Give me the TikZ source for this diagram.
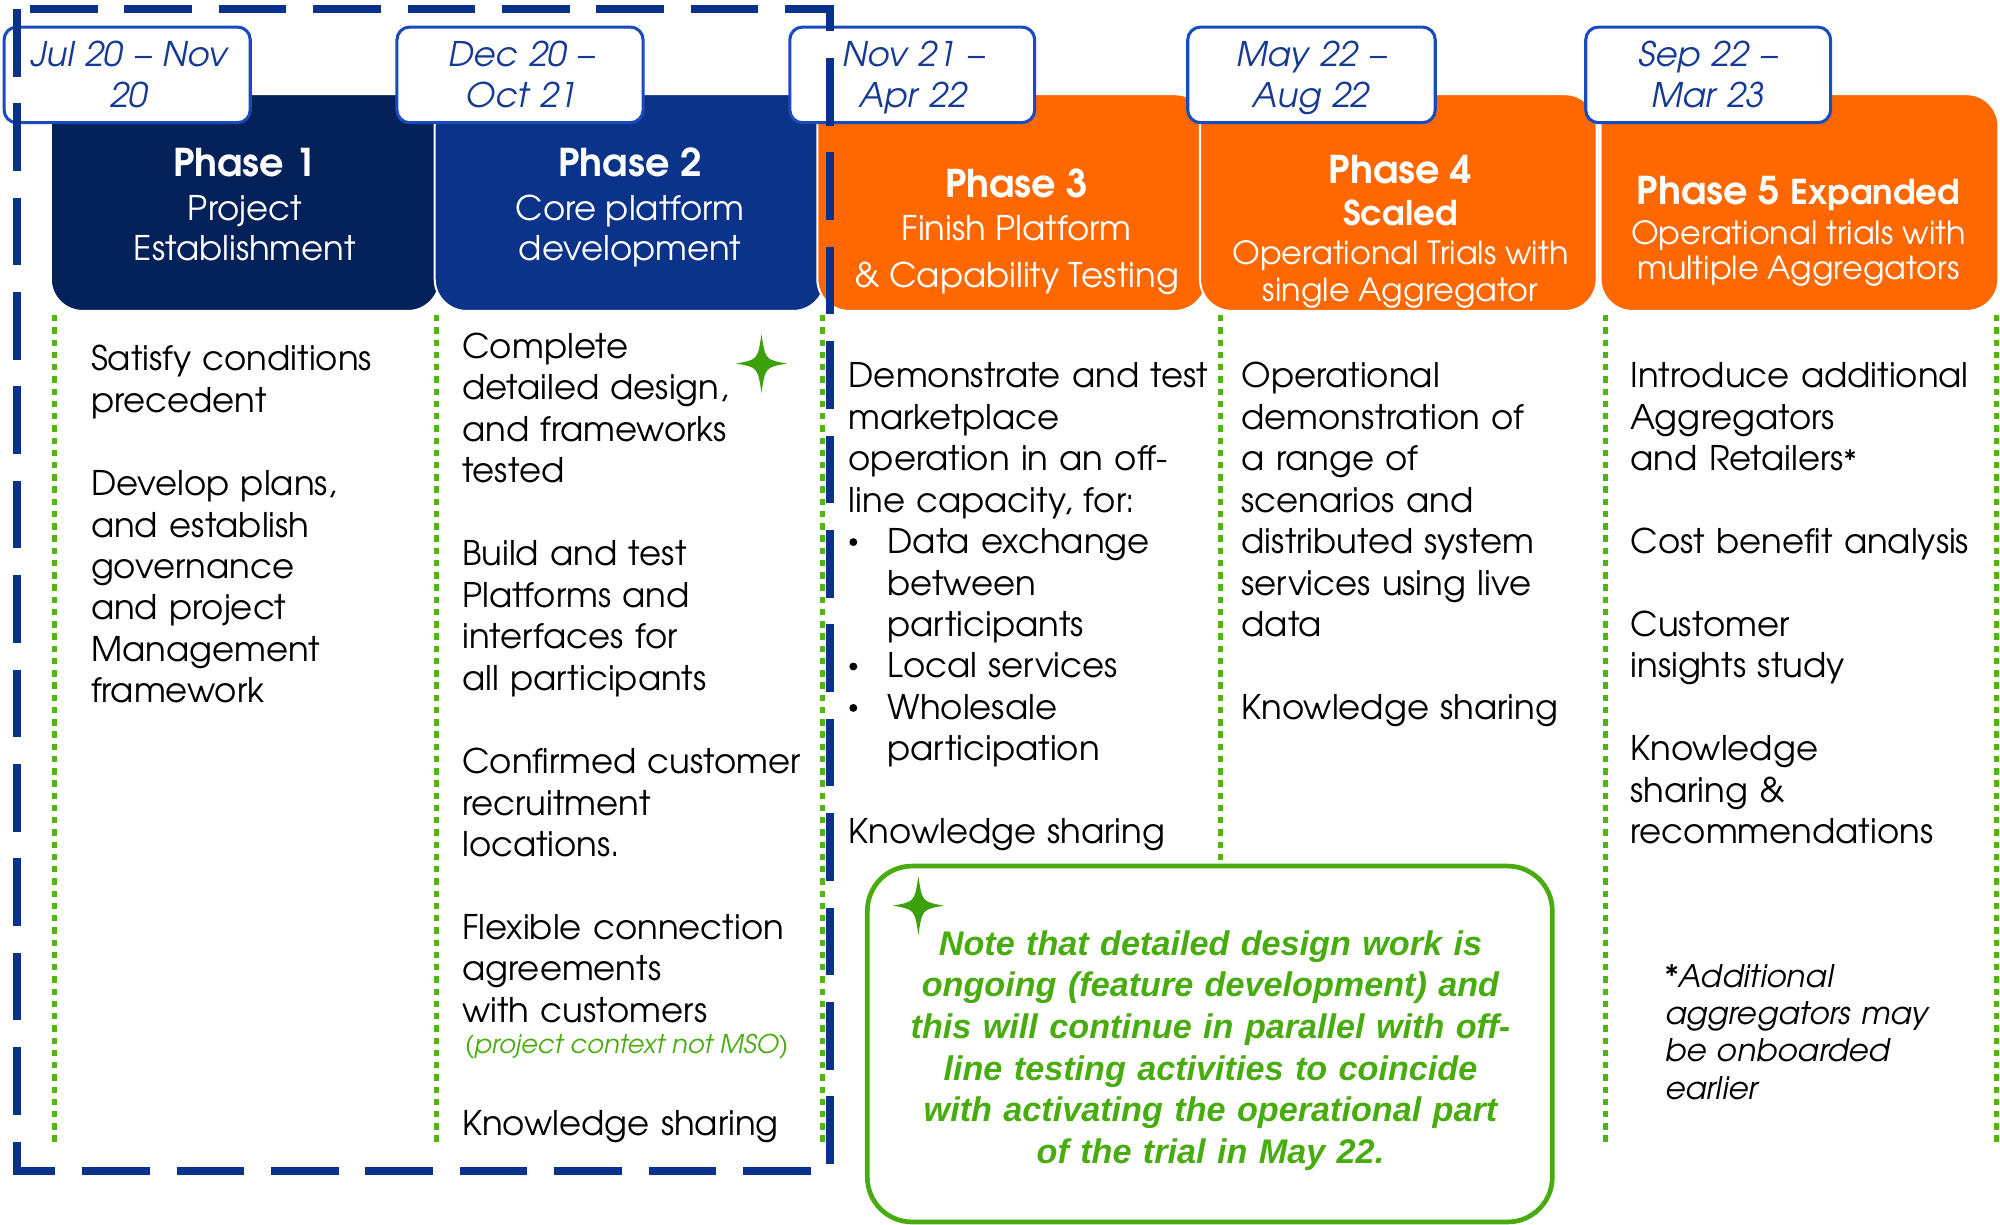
\documentclass[tikz,border=0pt]{standalone}
\usepackage{fontspec}
\IfFontExistsTF{TeX Gyre Adventor}{\setmainfont{TeX Gyre Adventor}}{\setmainfont{Poppins}[AutoFakeSlant=0.2]}
\newfontfamily\notefont{Liberation Sans}
\definecolor{navy}{RGB}{5,33,90}
\definecolor{ptwo}{RGB}{10,51,137}
\definecolor{orng}{RGB}{255,104,0}
\definecolor{dashblue}{RGB}{10,50,140}
\definecolor{datebord}{RGB}{25,75,190}
\definecolor{datetext}{RGB}{22,58,148}
\definecolor{dotgreen}{RGB}{80,180,20}
\definecolor{notegreen}{RGB}{72,172,16}
\definecolor{stargreen}{RGB}{60,160,10}
\tikzset{
 phasebox/.style={anchor=north west, draw=white, line width=0.8pt, rounded corners=12.5pt, minimum height=85pt, inner sep=0pt},
 datebox/.style={anchor=north west, draw=datebord, fill=white, line width=1.2pt, rounded corners=5pt, minimum height=37.5pt, inner sep=0pt},
 datetxt/.style={anchor=base, inner sep=0pt, text width=90pt, align=center, text=datetext, font=\fontsize{13.3pt}{16pt}\selectfont\itshape},
 hdrbig/.style={anchor=base, inner sep=0pt, text=white, font=\fontsize{15pt}{18pt}\selectfont\bfseries},
 hdr/.style={anchor=base, inner sep=0pt, text=white, font=\fontsize{13.3pt}{16pt}\selectfont},
 hdrsmall/.style={anchor=base, inner sep=0pt, text=white, font=\fontsize{12.5pt}{15pt}\selectfont},
 body/.style={anchor=base west, inner sep=0pt, text width=200pt, align=left, font=\fontsize{13.3pt}{16.25pt}\selectfont},
 ctx/.style={anchor=base west, inner sep=0pt, text=notegreen, font=\fontsize{10.1pt}{12pt}\selectfont\itshape},
 foot/.style={anchor=base west, inner sep=0pt, text width=150pt, align=left, font=\fontsize{12.2pt}{14.6pt}\selectfont\itshape},
 notetext/.style={anchor=base, inner sep=0pt, text width=265pt, align=center, text=notegreen, font=\notefont\fontsize{13.4pt}{16.3pt}\selectfont\bfseries\itshape},
 gdot/.style={draw=dotgreen, line width=2pt, dash pattern=on 2.5pt off 2.3pt},
 bluedash/.style={draw=dashblue, line width=3.2pt, dash pattern=on 26.5pt off 10.5pt},
 notebox/.style={draw=notegreen, line width=1.85pt, rounded corners=17.5pt},
 sparkle/.pic={\fill[stargreen] (0,-23) .. controls (3,-3) .. (20,0) .. controls (3,3) .. (0,23) .. controls (-3,3) .. (-20,0) .. controls (-3,-3) .. (0,-23) -- cycle;},
}
\newcommand{\smallast}{{\fontsize{11pt}{11pt}\selectfont*}}
\begin{document}
\begin{tikzpicture}[x=0.5pt,y=-0.5pt]
\useasboundingbox (0,0) rectangle (1568,960);
% phase header boxes
\node[phasebox, fill=navy, minimum width=152.5pt] (p1) at (39,73) {};
\node[phasebox, fill=ptwo, minimum width=153pt] (p2) at (340,73) {};
\node[phasebox, fill=orng, minimum width=152.5pt] (p3) at (640,73) {};
\node[phasebox, fill=orng, minimum width=155.5pt] (p4) at (940,73) {};
\node[phasebox, fill=orng, minimum width=156pt] (p5) at (1254,73) {};
% date boxes
\node[datebox, minimum width=96.5pt] (d1) at (2,20) {};
\node[datebox, minimum width=96.5pt] (d2) at (310,20) {};
\node[datebox, minimum width=96pt] (d3) at (618,20) {};
\node[datebox, minimum width=97pt] (d4) at (930,20) {};
\node[datebox, minimum width=96pt] (d5) at (1242,20) {};
\node[datetxt] (t1) at (101,52) {Jul 20 – Nov\\20};
\node[datetxt] (t2) at (409,52) {Dec 20 –\\Oct 21};
\node[datetxt] (t3) at (716,52) {Nov 21 –\\Apr 22};
\node[datetxt] (t4) at (1028,52) {May 22 –\\Aug 22};
\node[datetxt] (t5) at (1339,52) {Sep 22 –\\Mar 23};
% header texts
\node[hdrbig] (h1a) at (192,138.5) {Phase 1};
\node[hdr] (h1b) at (192,172.5) {Project};
\node[hdr] (h1c) at (192,204.5) {Establishment};
\node[hdrbig] (h2a) at (494,138.5) {Phase 2};
\node[hdr] (h2b) at (494,172.5) {Core platform};
\node[hdr] (h2c) at (494,204.5) {development};
\node[hdrbig] (h3a) at (797,154.5) {Phase 3};
\node[hdr] (h3b) at (797,188.5) {Finish Platform};
\node[hdr] (h3c) at (797,225) {\& Capability Testing};
\node[hdrbig] (h4a) at (1098,144) {Phase 4};
\node[hdrbig, font=\fontsize{13.4pt}{16pt}\selectfont\bfseries] (h4b) at (1098,177) {Scaled};
\node[hdrsmall] (h4c) at (1098,207.5) {Operational Trials with};
\node[hdrsmall] (h4d) at (1098,236.5) {single Aggregator};
\node[hdrbig] (h5a) at (1410,160.5) {Phase 5 {\fontsize{13.4pt}{16pt}\selectfont Expanded}};
\node[hdrsmall] (h5b) at (1410,191.5) {Operational trials with};
\node[hdrsmall] (h5c) at (1410,219.5) {multiple Aggregators};
% green dotted column lines
\draw[gdot] (43,247) -- (43,899);
\draw[gdot] (342,247) -- (342,899);
\draw[gdot] (645,247) -- (645,899);
\draw[gdot] (957,247) -- (957,679);
\draw[gdot] (1259,247) -- (1259,899);
\draw[gdot] (1565.5,247) -- (1565.5,899);
% column 1
\node[body] (c1a) at (71,290.5) {Satisfy conditions\\precedent};
\node[body] (c1b) at (71,388.5) {Develop plans,\\and establish\\governance\\and project\\Management\\framework};
% column 2
\node[body] (c2a) at (362,281) {Complete\\detailed design,\\and frameworks\\tested};
\node[body] (c2b) at (362,443.5) {Build and test\\Platforms and\\interfaces for\\all participants};
\node[body] (c2c) at (362,606.5) {Confirmed customer\\recruitment\\locations.};
\node[body] (c2d) at (362,736.5) {Flexible connection\\agreements\\with customers};
\node[ctx] (c2e) at (364,826) {(project context not MSO)};
\node[body] (c2f) at (362,890.5) {Knowledge sharing};
\pic (s1) at (597,285) {sparkle};
% column 3
\node[body] (c3a) at (665,304) {Demonstrate and test\\marketplace\\operation in an off-\\line capacity, for:};
\fill (669,425) circle[radius=1.55pt];
\node[body] (c3b) at (695.5,434) {Data exchange\\between\\participants};
\fill (669,522.5) circle[radius=1.55pt];
\node[body] (c3c) at (695.5,531.5) {Local services};
\fill (669,555) circle[radius=1.55pt];
\node[body] (c3d) at (695.5,564) {Wholesale\\participation};
\node[body] (c3e) at (665,661.5) {Knowledge sharing};
% column 4
\node[body] (c4a) at (973,304) {Operational\\demonstration of\\a range of\\scenarios and\\distributed system\\services using live\\data};
\node[body] (c4b) at (973,564) {Knowledge sharing};
% column 5
\node[body] (c5a) at (1278,304) {Introduce additional\\Aggregators\\and Retailers\smallast};
\node[body] (c5b) at (1278,434) {Cost benefit analysis};
\node[body] (c5c) at (1278,499) {Customer\\insights study};
\node[body] (c5d) at (1278,596.5) {Knowledge\\sharing \&\\recommendations};
\node[foot] (c5e) at (1305,774) {*Additional\\aggregators may\\be onboarded\\earlier};
% note box
\draw[notebox] (680,679) rectangle (1217,958);
\node[notetext] (nt) at (949,749) {Note that detailed design work is\\ongoing (feature development) and\\this will continue in parallel with off-\\line testing activities to coincide\\with activating the operational part\\of the trial in May 22.};
\pic (s2) at (720,710) {sparkle};
% dashed outline of phases 1-2
\draw[bluedash] (13.5,7) rectangle (651,918);
\end{tikzpicture}
\end{document}
